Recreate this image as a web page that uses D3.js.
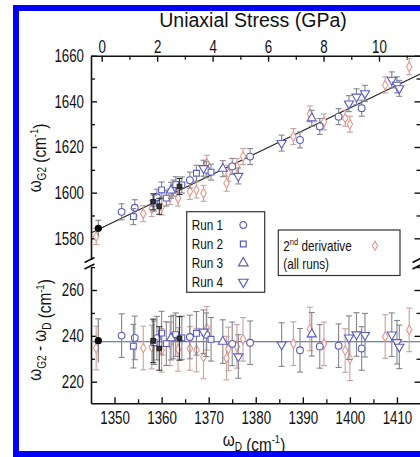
<!DOCTYPE html>
<html><head><meta charset="utf-8">
<script src="https://cdn.jsdelivr.net/npm/d3@7"></script>
<style>body{margin:0;background:#fff}svg{display:block}text{font-family:"Liberation Sans",Arial,sans-serif;fill:#111}</style>
</head><body><svg id="c" width="420" height="457"></svg>
<script>
// ---------- data ----------
const run1D    = [1351.5,1354.3,1359.0,1362.5,1366.0,1369.5,1375.0,1378.8,1389.4,1393.6,1397.6,1402.5];
const run1G    = [1591.6,1593.4,1598.0,1602.0,1605.5,1610.0,1611.5,1615.8,1623.1,1629.0,1633.3,1637.0];
const run1Diff = [240.1,239.1,239.0,239.5,239.5,240.5,236.5,237.0,233.7,235.4,235.7,234.5];

const run2D    = [1354.0,1358.4,1360.0,1361.0,1363.0,1364.3,1367.4,1370.5];
const run2G    = [1589.5,1595.4,1601.2,1597.6,1603.5,1603.4,1608.5,1609.0];
const run2Diff = [235.5,237.0,241.2,236.6,240.5,239.1,241.1,238.5];

const run3D    = [1362.0,1373.0,1391.9];
const run3G    = [1601.0,1610.5,1632.6];
const run3Diff = [239.0,237.5,240.7];

const run4D    = [1368.9,1376.3,1385.5,1399.8,1401.4,1403.2,1408.9,1410.0,1410.5];
const run4G    = [1610.7,1607.3,1621.7,1639.0,1642.0,1643.5,1649.4,1647.2,1645.7];
const run4Diff = [241.8,231.0,236.2,239.2,240.6,240.3,240.5,237.2,235.2];

const derivD    = [1346.1,1356.1,1357.9,1360.0,1361.8,1363.5,1366.0,1367.4,1368.9,1369.6,1373.8,1374.2,1376.0,1377.3,1388.0,1391.5,1394.5,1399.0,1400.0,1407.5,1412.6];
const derivG    = [1580.8,1590.8,1593.0,1593.7,1598.3,1597.6,1600.5,1601.2,1599.7,1612.9,1604.1,1608.5,1611.4,1615.8,1624.6,1634.5,1631.0,1632.6,1630.0,1647.2,1655.2];
const derivDiff = [234.7,234.7,235.1,233.7,236.5,234.1,234.5,233.8,230.8,243.3,230.3,234.3,235.4,238.5,236.6,243.0,236.5,233.6,230.0,239.7,242.6];

const darkD    = [1358.2,1359.5,1363.8];
const darkG    = [1596.0,1594.0,1602.7];
const darkDiff = [237.8,234.5,238.9];

const refD = [1346.55], refG = [1584.4], refDiff = [237.9];

const errG = 3.5, errDiff = 9.5;

const fitD = [1345,1415], fitG = [1582.3,1652.0], fitDiff = [237.4,237.4];

const xTicks = [1350,1360,1370,1380,1390,1400,1410];
const xMinor = [1355,1365,1375,1385,1395,1405];
const sTicks = [0,2,4,6,8,10], sMinor = [1,3,5,7,9,11];
const gTicks = [1580,1600,1620,1640,1660], gMinor = [1570,1590,1610,1630,1650];
const dTicks = [220,240,260], dMinor = [230,250,270];

// ---------- scales ----------
const svg = d3.select('#c');
const L=91, R=420.5, T=55.7, B=403.3, brkTop=259.5, brkBot=267;
const x = d3.scaleLinear().domain([1345,1415]).range([L,R]);
const s0 = d3.scaleLinear().domain([0,10]).range([101.7,379]);
const s = d3.scaleLinear().domain([s0.invert(L), s0.invert(R)]).range([L,R]);
const yT0 = d3.scaleLinear().domain([1580,1660]).range([238.3,T]);
const yT = d3.scaleLinear().domain([yT0.invert(brkTop),1660]).range([brkTop,T]);
const yB0 = d3.scaleLinear().domain([220,260]).range([381.7,290]);
const yB = d3.scaleLinear().domain([yB0.invert(B), yB0.invert(brkBot)]).range([B,brkBot]);

svg.append('rect').attr('width',420).attr('height',457).attr('fill','#fff');

// ---------- axes ----------
const TF = 0.72;
function styleAxis(g, f){
  g.select('.domain').attr('stroke','#111').attr('stroke-width',1.6);
  g.selectAll('.tick line').attr('stroke','#111').attr('stroke-width',1.4);
  g.selectAll('text').attr('font-size',18.5).attr('font-family','"Liberation Sans",Arial,sans-serif').attr('fill','#111')
    .each(function(){ const xx=+(this.getAttribute('x')||0); this.setAttribute('x', xx/f); this.setAttribute('transform',`scale(${f},1)`); });
}
function minor(axisFn, scale, vals, tx, ty){
  const g = svg.append('g').attr('transform',`translate(${tx},${ty})`)
    .call(axisFn(scale).tickValues(vals.filter(v=>v>=scale.domain()[0]-1e-9 && v<=scale.domain()[1]+1e-9)).tickSizeInner(-4).tickSizeOuter(0).tickFormat(''));
  g.select('.domain').remove();
  g.selectAll('.tick line').attr('stroke','#111').attr('stroke-width',1.3);
}
// bottom
styleAxis(svg.append('g').attr('transform',`translate(0,${B})`).call(d3.axisBottom(x).tickValues(xTicks).tickSizeInner(-6).tickSizeOuter(0).tickPadding(8).tickFormat(d3.format('d'))), TF);
minor(d3.axisBottom, x, xMinor, 0, B);
// top
styleAxis(svg.append('g').attr('transform',`translate(0,${T})`).call(d3.axisTop(s).tickValues(sTicks).tickSizeInner(-6).tickSizeOuter(0).tickPadding(3).tickFormat(d3.format('d'))), TF);
minor(d3.axisTop, s, sMinor, 0, T);
// left upper & lower
styleAxis(svg.append('g').attr('transform',`translate(${L},0)`).call(d3.axisLeft(yT).tickValues(gTicks).tickSizeInner(-6).tickSizeOuter(0).tickPadding(7).tickFormat(d3.format('d'))), TF);
minor(d3.axisLeft, yT, gMinor, L, 0);
styleAxis(svg.append('g').attr('transform',`translate(${L},0)`).call(d3.axisLeft(yB).tickValues(dTicks).tickSizeInner(-6).tickSizeOuter(0).tickPadding(7).tickFormat(d3.format('d'))), TF);
minor(d3.axisLeft, yB, dMinor, L, 0);
// right
styleAxis(svg.append('g').attr('transform',`translate(${R},0)`).call(d3.axisRight(yT).tickValues(gTicks).tickSizeInner(-6).tickSizeOuter(0).tickFormat('')), TF);
minor(d3.axisRight, yT, gMinor, R, 0);
styleAxis(svg.append('g').attr('transform',`translate(${R},0)`).call(d3.axisRight(yB).tickValues(dTicks).tickSizeInner(-6).tickSizeOuter(0).tickFormat('')), TF);
minor(d3.axisRight, yB, dMinor, R, 0);

// break marks
[L-1.5, R-3].forEach(bx=>{
  [0,6.5].forEach(off=>{
    svg.append('line').attr('x1',bx-5).attr('y1',brkTop+3+off).attr('x2',bx+5).attr('y2',brkTop-2+off)
      .attr('stroke','#111').attr('stroke-width',1.6);
  });
});

// ---------- fit lines ----------
const plot = svg.append('g');
plot.append('path').datum(fitD.map((d,i)=>[d,fitG[i]]))
  .attr('d', d3.line().x(d=>x(d[0])).y(d=>yT(d[1]))).attr('stroke','#222').attr('stroke-width',1.1).attr('fill','none');
plot.append('path').datum(fitD.map((d,i)=>[d,fitDiff[i]]))
  .attr('d', d3.line().x(d=>x(d[0])).y(d=>yB(d[1]))).attr('stroke','#4f5a8a').attr('stroke-width',1.1).attr('fill','none');

// ---------- series ----------
const blue = '#5a5cc4', pink = '#e8978a';
const series = [
  {D:derivD, G:derivG, Diff:derivDiff, sym:d3.symbolDiamond, size:26, rot:0, color:pink, bar:'#c9a29c', fill:'#fff'},
  {D:run1D, G:run1G, Diff:run1Diff, sym:d3.symbolCircle, size:36, rot:0, color:blue, bar:'#858590', fill:'#fff'},
  {D:run2D, G:run2G, Diff:run2Diff, sym:d3.symbolSquare, size:34, rot:0, color:blue, bar:'#858590', fill:'#fff'},
  {D:run3D, G:run3G, Diff:run3Diff, sym:d3.symbolTriangle, size:36, rot:0, color:blue, bar:'#858590', fill:'#fff'},
  {D:run4D, G:run4G, Diff:run4Diff, sym:d3.symbolTriangle, size:36, rot:180, color:blue, bar:'#858590', fill:'#fff'},
  {D:darkD, G:darkG, Diff:darkDiff, sym:d3.symbolSquare, size:20, rot:0, color:'#222', bar:'#333', fill:'#333'}
];
function drawPanel(yScale, key, err){
  series.forEach(se=>{
    const pts = se.D.map((d,i)=>({x:d, y:se[key][i]}));
    const g = plot.append('g');
    const eb = g.selectAll('g.eb').data(pts).join('g').attr('stroke',se.bar).attr('stroke-width',1.1);
    eb.append('line').attr('x1',d=>x(d.x)).attr('x2',d=>x(d.x)).attr('y1',d=>yScale(d.y-err)).attr('y2',d=>yScale(d.y+err));
    eb.append('line').attr('x1',d=>x(d.x)-3).attr('x2',d=>x(d.x)+3).attr('y1',d=>yScale(d.y+err)).attr('y2',d=>yScale(d.y+err));
    eb.append('line').attr('x1',d=>x(d.x)-3).attr('x2',d=>x(d.x)+3).attr('y1',d=>yScale(d.y-err)).attr('y2',d=>yScale(d.y-err));
    g.selectAll('path').data(pts).join('path')
      .attr('d', d3.symbol().type(se.sym).size(se.size))
      .attr('transform', d=>`translate(${x(d.x)},${yScale(d.y)}) rotate(${se.rot})`)
      .attr('fill',se.fill).attr('stroke',se.color).attr('stroke-width',1.1);
  });
  // reference (zero stress) point
  const rp = refD.map((d,i)=>({x:d, y:(key==='G'?refG:refDiff)[i]}));
  const rg = plot.append('g');
  rg.selectAll('line.v').data(rp).join('line').attr('x1',d=>x(d.x)).attr('x2',d=>x(d.x))
    .attr('y1',d=>yScale(d.y-err)).attr('y2',d=>yScale(d.y+err)).attr('stroke','#777').attr('stroke-width',1.1);
  rg.selectAll('line.c1').data(rp).join('line').attr('x1',d=>x(d.x)-3).attr('x2',d=>x(d.x)+3)
    .attr('y1',d=>yScale(d.y+err)).attr('y2',d=>yScale(d.y+err)).attr('stroke','#777');
  rg.selectAll('circle').data(rp).join('circle').attr('cx',d=>x(d.x)).attr('cy',d=>yScale(d.y)).attr('r',3.6).attr('fill','#000');
}
drawPanel(yT,'G',errG);
drawPanel(yB,'Diff',errDiff);

// ---------- legends ----------
function ctext(parent, str, tx, ty, size, f, anchor){
  return parent.append('text').attr('transform',`translate(${tx},${ty}) scale(${f},1)`)
    .attr('font-size',size).attr('text-anchor',anchor||'start').text(str);
}
const leg1 = svg.append('g');
leg1.append('rect').attr('x',186.7).attr('y',211.7).attr('width',78).attr('height',80.6).attr('fill','#fff').attr('stroke','#333').attr('stroke-width',1.2);
const legRuns = ['Run 1','Run 2','Run 3','Run 4'];
const legSyms = [[d3.symbolCircle,0,36],[d3.symbolSquare,0,34],[d3.symbolTriangle,0,40],[d3.symbolTriangle,180,40]];
legRuns.forEach((r,i)=>{
  const cy = 225 + i*19;
  ctext(leg1, r, 191.7, cy+4.8, 14, 0.84);
  leg1.append('path').attr('d',d3.symbol().type(legSyms[i][0]).size(legSyms[i][2]))
    .attr('transform',`translate(243.3,${cy}) rotate(${legSyms[i][1]})`).attr('fill','#fff').attr('stroke',blue).attr('stroke-width',1.2);
});
const leg2 = svg.append('g');
leg2.append('rect').attr('x',278.3).attr('y',230).attr('width',121.7).attr('height',45.5).attr('fill','#fff').attr('stroke','#333').attr('stroke-width',1.2);
const t2 = leg2.append('text').attr('transform','translate(283.3,250.5) scale(0.84,1)').attr('font-size',14);
t2.append('tspan').text('2');
t2.append('tspan').attr('font-size',9).attr('dy',-6).text('nd');
t2.append('tspan').attr('dy',6).text(' derivative');
ctext(leg2,'(all runs)',283.3,269.2,14,0.84);
leg2.append('path').attr('d',d3.symbol().type(d3.symbolDiamond).size(24)).attr('transform','translate(375,245.7)')
  .attr('fill','#fff').attr('stroke',pink).attr('stroke-width',1.1);

// ---------- axis titles ----------
svg.append('text').attr('x',253).attr('y',26.5).attr('text-anchor','middle').attr('font-size',19.5).text('Uniaxial Stress (GPa)');
function sub(t, main, subTxt, size){
  t.append('tspan').text(main);
  t.append('tspan').attr('font-size',size*0.66).attr('dy',size*0.28).text(subTxt);
  t.append('tspan').attr('dy',-size*0.28).text('');
}
function unit(t,size){
  t.append('tspan').text(' (cm');
  t.append('tspan').attr('font-size',size*0.62).attr('dy',-size*0.42).text('-1');
  t.append('tspan').attr('dy',size*0.42).text(')');
}
const bt = svg.append('text').attr('transform','translate(254,446) scale(0.85,1)').attr('text-anchor','middle').attr('font-size',18);
sub(bt,'ω','D',18); unit(bt,18);
const lt1 = svg.append('text').attr('transform','translate(41,158) rotate(-90) scale(0.85,1)').attr('text-anchor','middle').attr('font-size',18);
sub(lt1,'ω','G2',18); unit(lt1,18);
const lt2 = svg.append('text').attr('transform','translate(41,330) rotate(-90) scale(0.85,1)').attr('text-anchor','middle').attr('font-size',18);
sub(lt2,'ω','G2',18); lt2.append('tspan').text(' - '); sub(lt2,'ω','D',18); unit(lt2,18);

// ---------- blue frame ----------
svg.append('rect').attr('x',16).attr('y',8).attr('width',420).attr('height',446).attr('fill','none').attr('stroke','#0000ff').attr('stroke-width',6);
</script></body></html>
